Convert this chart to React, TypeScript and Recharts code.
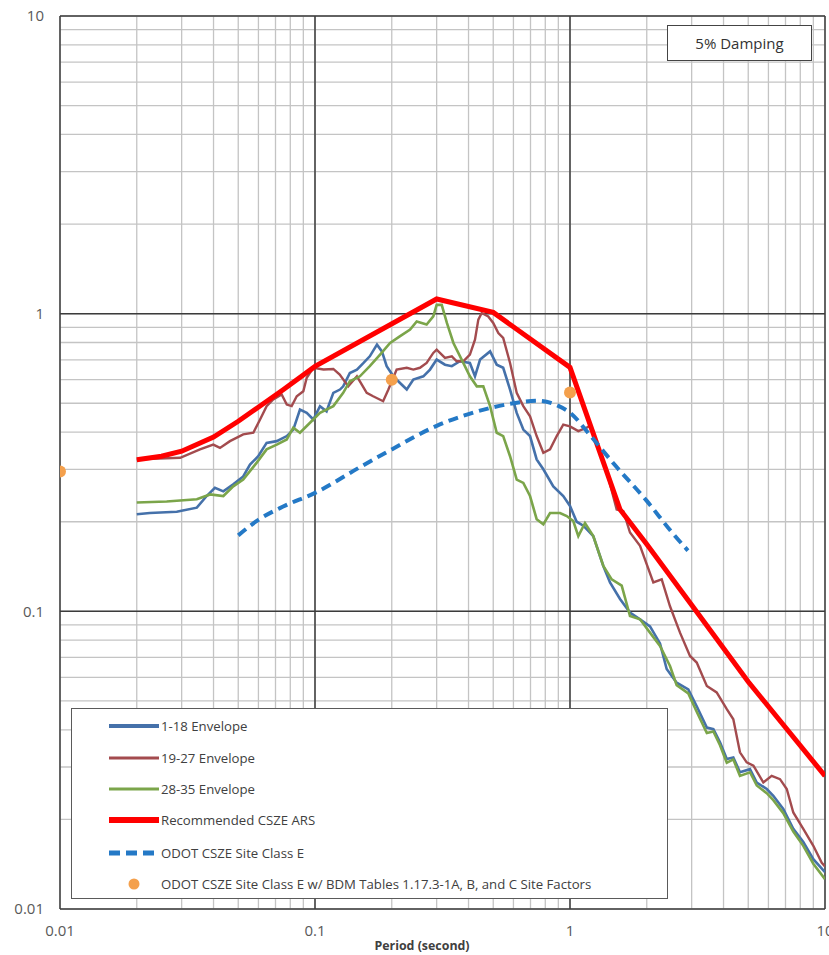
import React from 'react';
import {
  ComposedChart,
  Line,
  Scatter,
  XAxis,
  YAxis,
  CartesianGrid,
  ReferenceLine,
  Legend,
} from 'recharts';

// ---------- data (period in s, spectral acceleration in g) ----------
const env118: [number, number][] = [
  [0.02, 0.212], [0.0225, 0.214], [0.0287, 0.216], [0.0344, 0.223], [0.0376, 0.244], [0.0405, 0.26],
  [0.0437, 0.253], [0.0478, 0.267], [0.0523, 0.284], [0.0556, 0.311], [0.0599, 0.332], [0.0646, 0.368],
  [0.0708, 0.373], [0.0775, 0.388], [0.0822, 0.408], [0.0873, 0.476], [0.0928, 0.464], [0.0985, 0.441],
  [0.1046, 0.489], [0.111, 0.47], [0.118, 0.542], [0.1253, 0.556], [0.129, 0.57], [0.137, 0.632],
  [0.146, 0.649], [0.155, 0.683], [0.164, 0.719], [0.175, 0.787], [0.183, 0.747], [0.191, 0.666],
  [0.203, 0.616], [0.215, 0.586], [0.229, 0.556], [0.243, 0.601], [0.266, 0.616], [0.2825, 0.649],
  [0.3, 0.701], [0.3235, 0.674], [0.344, 0.666], [0.37, 0.692], [0.405, 0.683], [0.424, 0.616],
  [0.444, 0.701], [0.486, 0.747], [0.516, 0.674], [0.547, 0.658], [0.582, 0.556], [0.618, 0.464],
  [0.656, 0.408], [0.697, 0.388], [0.74, 0.324], [0.786, 0.3], [0.86, 0.263], [0.941, 0.244],
  [1.0, 0.226], [1.062, 0.2], [1.128, 0.194], [1.234, 0.179], [1.351, 0.142], [1.435, 0.125],
  [1.571, 0.11], [1.719, 0.099], [1.882, 0.094], [2.059, 0.089], [2.254, 0.078], [2.394, 0.064],
  [2.62, 0.0576], [2.91, 0.0547], [3.14, 0.048], [3.44, 0.0407], [3.65, 0.0402], [3.875, 0.0363],
  [4.12, 0.0319], [4.37, 0.0323], [4.64, 0.0288], [5.08, 0.0295], [5.4, 0.0266], [5.91, 0.0253],
  [6.27, 0.024], [6.86, 0.0217], [7.51, 0.0186], [8.22, 0.0168], [9.0, 0.0147], [10, 0.0133],
];

const env1927: [number, number][] = [
  [0.02, 0.324], [0.0296, 0.328], [0.0354, 0.35], [0.0399, 0.363], [0.0424, 0.354], [0.0464, 0.373],
  [0.0523, 0.393], [0.0573, 0.398], [0.0609, 0.441], [0.0646, 0.489], [0.0686, 0.515], [0.074, 0.535],
  [0.0775, 0.495], [0.081, 0.489], [0.0848, 0.528], [0.09, 0.549], [0.0928, 0.609], [0.0985, 0.658],
  [0.108, 0.649], [0.118, 0.652], [0.125, 0.624], [0.135, 0.57], [0.146, 0.616], [0.1595, 0.542],
  [0.169, 0.528], [0.185, 0.508], [0.194, 0.556], [0.209, 0.649], [0.229, 0.658], [0.243, 0.649],
  [0.258, 0.658], [0.274, 0.683], [0.291, 0.738], [0.3, 0.757], [0.3235, 0.71], [0.344, 0.719],
  [0.3595, 0.692], [0.3815, 0.692], [0.405, 0.729], [0.424, 0.818], [0.437, 0.955], [0.4505, 1.005],
  [0.478, 0.979], [0.5, 0.931], [0.5235, 0.861], [0.547, 0.829], [0.582, 0.683], [0.618, 0.542],
  [0.656, 0.489], [0.697, 0.452], [0.74, 0.388], [0.786, 0.341], [0.835, 0.35], [0.887, 0.388],
  [0.941, 0.424], [1.0, 0.418], [1.078, 0.403], [1.163, 0.414], [1.2, 0.42], [1.3, 0.35],
  [1.4, 0.29], [1.524, 0.22], [1.618, 0.217], [1.719, 0.184], [1.882, 0.166], [2.122, 0.125],
  [2.289, 0.128], [2.467, 0.104], [2.7, 0.0848], [2.955, 0.0708], [3.14, 0.0673], [3.44, 0.0561],
  [3.76, 0.0534], [4.12, 0.0469], [4.37, 0.0434], [4.64, 0.0336], [4.93, 0.0311], [5.24, 0.0303],
  [5.73, 0.0266], [6.18, 0.028], [6.66, 0.0273], [7.08, 0.0253], [7.51, 0.0211], [8.22, 0.0186],
  [9.0, 0.0163], [9.71, 0.0143], [10, 0.0139],
];

const env2835: [number, number][] = [
  [0.02, 0.232], [0.0262, 0.234], [0.0344, 0.238], [0.0388, 0.247], [0.0437, 0.244], [0.0478, 0.263],
  [0.0523, 0.277], [0.0591, 0.316], [0.0646, 0.35], [0.0708, 0.363], [0.0775, 0.378], [0.0822, 0.414],
  [0.0873, 0.398], [0.0956, 0.43], [0.1046, 0.464], [0.118, 0.489], [0.129, 0.542], [0.137, 0.593],
  [0.15, 0.616], [0.164, 0.666], [0.18, 0.729], [0.197, 0.797], [0.215, 0.839], [0.236, 0.884],
  [0.2505, 0.942], [0.274, 0.919], [0.291, 0.979], [0.3, 1.07], [0.314, 1.07], [0.329, 0.931],
  [0.349, 0.797], [0.376, 0.701], [0.405, 0.616], [0.431, 0.57], [0.457, 0.57], [0.486, 0.489],
  [0.516, 0.398], [0.547, 0.388], [0.582, 0.332], [0.618, 0.277], [0.656, 0.27], [0.697, 0.244],
  [0.74, 0.204], [0.786, 0.196], [0.835, 0.214], [0.914, 0.214], [0.971, 0.209], [1.03, 0.201],
  [1.078, 0.179], [1.145, 0.198], [1.234, 0.179], [1.351, 0.142], [1.457, 0.128], [1.595, 0.122],
  [1.719, 0.0964], [1.882, 0.094], [2.059, 0.0848], [2.254, 0.0765], [2.467, 0.0655], [2.62, 0.0565],
  [2.91, 0.053], [3.14, 0.046], [3.44, 0.039], [3.65, 0.0395], [3.875, 0.0355], [4.12, 0.031],
  [4.37, 0.0318], [4.64, 0.028], [5.08, 0.0288], [5.4, 0.026], [5.91, 0.0245], [6.27, 0.0232],
  [6.86, 0.021], [7.51, 0.0182], [8.22, 0.0163], [9.0, 0.0142], [10, 0.0126],
];

const recommended: [number, number][] = [
  [0.02, 0.323], [0.025, 0.332], [0.03, 0.345], [0.04, 0.385], [0.05, 0.435], [0.075, 0.555],
  [0.1, 0.665], [0.3, 1.12], [0.5, 1.01], [1.0, 0.66], [1.57, 0.22], [2.0, 0.168], [3.0, 0.105],
  [5.0, 0.058], [10, 0.028],
];

const odotSiteE: [number, number][] = [
  [0.05, 0.18], [0.06, 0.203], [0.075, 0.225], [0.1, 0.25], [0.15, 0.305], [0.2, 0.35], [0.3, 0.42],
  [0.4, 0.46], [0.5, 0.485], [0.6, 0.5], [0.75, 0.51], [0.9, 0.49], [1.0, 0.465], [1.2, 0.39],
  [1.5, 0.31], [2.0, 0.235], [2.5, 0.185], [2.9, 0.16],
];

const odotBdmPoints: [number, number][] = [
  [0.01, 0.295], [0.2, 0.6], [1.0, 0.543],
];

const logTicks = [
  0.01, 0.02, 0.03, 0.04, 0.05, 0.06, 0.07, 0.08, 0.09,
  0.1, 0.2, 0.3, 0.4, 0.5, 0.6, 0.7, 0.8, 0.9,
  1, 2, 3, 4, 5, 6, 7, 8, 9, 10,
];
const majorTicks = [0.01, 0.1, 1, 10];
const majorLabels = ['0.01', '0.1', '1', '10'];

const legendLabels = [
  '1-18 Envelope',
  '19-27 Envelope',
  '28-35 Envelope',
  'Recommended CSZE ARS',
  'ODOT CSZE Site Class E',
  'ODOT CSZE Site Class E w/ BDM Tables 1.17.3-1A, B, and C Site Factors',
];

const xTitle = 'Period (second)';
const dampingLabel = '5% Damping';

// ---------- styles ----------
const C_BLUE = '#4571aa';
const C_BROWN = '#a34b4e';
const C_GREEN = '#7ba54a';
const C_RED = '#ff0000';
const C_DASH = '#2479c6';
const C_ORANGE = '#f4a04c';
const FONT = '"Open Sans", Lato, sans-serif';

const toPts = (arr: [number, number][]) => arr.map(([x, y]) => ({ x, y }));

const fmt = (v: number) => {
  const i = majorTicks.findIndex((m) => Math.abs(m - v) < 1e-9);
  return i >= 0 ? majorLabels[i] : '';
};

const legendRows = [
  { kind: 'line', color: C_BLUE, width: 4, dash: undefined as string | undefined },
  { kind: 'line', color: C_BROWN, width: 3, dash: undefined },
  { kind: 'line', color: C_GREEN, width: 3, dash: undefined },
  { kind: 'line', color: C_RED, width: 6, dash: undefined },
  { kind: 'line', color: C_DASH, width: 5, dash: '11 6' },
  { kind: 'dot', color: C_ORANGE, width: 0, dash: undefined },
];
const rowTops = [17, 49, 80, 111, 144, 175];

function LegendContent() {
  return (
    <div
      style={{
        position: 'relative',
        width: 597,
        height: 191,
        boxSizing: 'border-box',
        border: '1.5px solid #5a5a5a',
        background: '#fff',
        fontFamily: FONT,
        fontSize: 13.2,
        color: '#404040',
      }}
    >
      {legendRows.map((r, i) => (
        <div key={i} style={{ position: 'absolute', left: 0, top: rowTops[i] - 9, height: 18, width: 590 }}>
          <svg width={60} height={18} style={{ position: 'absolute', left: 35, top: 0 }}>
            {r.kind === 'line' ? (
              <line x1={2} y1={9} x2={52} y2={9} stroke={r.color} strokeWidth={r.width} strokeDasharray={r.dash} />
            ) : (
              <circle cx={27} cy={9} r={5.5} fill={r.color} />
            )}
          </svg>
          <span style={{ position: 'absolute', left: 89, top: 0, lineHeight: '18px', whiteSpace: 'nowrap' }}>
            {legendLabels[i]}
          </span>
        </div>
      ))}
    </div>
  );
}

export default function App() {
  return (
    <div
      style={{
        position: 'absolute',
        left: 0,
        top: 0,
        width: 829,
        height: 955,
        overflow: 'hidden',
        background: '#fff',
      }}
    >
      <ComposedChart
        width={829}
        height={955}
        margin={{ top: 16, right: 4, bottom: 0, left: 0 }}
        style={{ fontFamily: FONT }}
      >
        <CartesianGrid stroke="#c4c4c4" strokeWidth={1.3} />
        <XAxis
          dataKey="x"
          type="number"
          scale="log"
          domain={[0.01, 10]}
          allowDataOverflow
          ticks={logTicks}
          interval={0}
          tickFormatter={fmt}
          axisLine={false}
          tickLine={false}
          tickSize={0}
          tickMargin={16}
          height={46}
          tick={{ fill: '#595959', fontSize: 15, fontFamily: FONT }}
        />
        <YAxis
          dataKey="y"
          type="number"
          scale="log"
          domain={[0.01, 10]}
          allowDataOverflow
          ticks={logTicks}
          interval={0}
          tickFormatter={fmt}
          axisLine={false}
          tickLine={false}
          tickSize={0}
          tickMargin={16}
          width={60}
          tick={{ fill: '#595959', fontSize: 15, fontFamily: FONT }}
        />
        {majorTicks.map((v) => (
          <ReferenceLine key={'vx' + v} x={v} stroke="#3c3c3c" strokeWidth={1.5} />
        ))}
        {majorTicks.map((v) => (
          <ReferenceLine key={'hy' + v} y={v} stroke="#3c3c3c" strokeWidth={1.5} />
        ))}
        <Line
          data={toPts(env118)}
          dataKey="y"
          name={legendLabels[0]}
          stroke={C_BLUE}
          strokeWidth={2.6}
          dot={false}
          type="linear"
          isAnimationActive={false}
        />
        <Line
          data={toPts(env1927)}
          dataKey="y"
          name={legendLabels[1]}
          stroke={C_BROWN}
          strokeWidth={2.4}
          dot={false}
          type="linear"
          isAnimationActive={false}
        />
        <Line
          data={toPts(env2835)}
          dataKey="y"
          name={legendLabels[2]}
          stroke={C_GREEN}
          strokeWidth={2.6}
          dot={false}
          type="linear"
          isAnimationActive={false}
        />
        <Line
          data={toPts(recommended)}
          dataKey="y"
          name={legendLabels[3]}
          stroke={C_RED}
          strokeWidth={5}
          dot={false}
          type="linear"
          isAnimationActive={false}
        />
        <Line
          data={toPts(odotSiteE)}
          dataKey="y"
          name={legendLabels[4]}
          stroke={C_DASH}
          strokeWidth={4}
          strokeDasharray="10 6"
          dot={false}
          type="monotone"
          isAnimationActive={false}
        />
        <Scatter
          data={toPts(odotBdmPoints)}
          dataKey="y"
          name={legendLabels[5]}
          fill={C_ORANGE}
          shape={(p: any) => <circle cx={p.cx} cy={p.cy} r={6} fill={C_ORANGE} />}
          isAnimationActive={false}
        />
        <Legend
          layout="horizontal"
          verticalAlign="middle"
          align="center"
          wrapperStyle={{ left: 71, top: 708, width: 597, height: 191 }}
          content={() => <LegendContent />}
        />
      </ComposedChart>
      <div
        style={{
          position: 'absolute',
          left: 667,
          top: 25,
          width: 145,
          height: 36,
          boxSizing: 'border-box',
          border: '1.5px solid #444',
          background: '#fff',
          fontFamily: FONT,
          fontSize: 15,
          color: '#333',
          display: 'flex',
          alignItems: 'center',
          justifyContent: 'center',
        }}
      >
        {dampingLabel}
      </div>
      <div
        style={{
          position: 'absolute',
          left: 322,
          width: 200,
          top: 938,
          textAlign: 'center',
          fontFamily: FONT,
          fontWeight: 700,
          fontSize: 12.4,
          lineHeight: '16px',
          color: '#404040',
        }}
      >
        {xTitle}
      </div>
    </div>
  );
}
